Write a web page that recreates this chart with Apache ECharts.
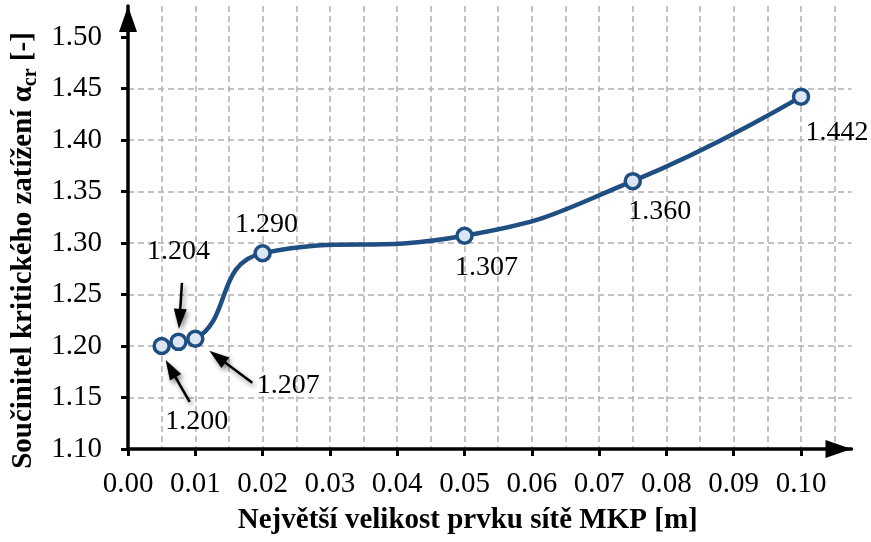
<!DOCTYPE html>
<html>
<head>
<meta charset="utf-8">
<script src="https://cdn.jsdelivr.net/npm/echarts@6/dist/echarts.min.js"></script>
<style>
html,body{margin:0;padding:0;background:#fff;}
#chart{width:871px;height:542px;}
</style>
</head>
<body>
<div id="chart"></div>
<script>
// ---- data ----
const meshSize = [0.005, 0.0075, 0.01, 0.02, 0.05, 0.075, 0.10];
const alphaCr = [1.200, 1.204, 1.207, 1.290, 1.307, 1.360, 1.442];
const pointLabels = ['1.200', '1.204', '1.207', '1.290', '1.307', '1.360', '1.442'];
const xTickValues = [0.00, 0.01, 0.02, 0.03, 0.04, 0.05, 0.06, 0.07, 0.08, 0.09, 0.10];
const yTickValues = [1.10, 1.15, 1.20, 1.25, 1.30, 1.35, 1.40, 1.45, 1.50];
const xTitle = 'Největší velikost prvku sítě MKP [m]';
const yTitleMain = 'Součinitel kritického zatížení α';
const yTitleSub = 'cr';
const yTitleEnd = ' [-]';

// ---- styles (pixel offsets of labels / arrows relative to points) ----
const labelOffsets = [[35, 76], [0, -90], [93, 47], [4, -29], [22, 32], [27, 31], [36, 36]];
const arrowSpecs = [
  { idx: 0, from: [28, 56], to: [4, 14] },
  { idx: 1, from: [3.5, -59], to: [0.5, -13] },
  { idx: 2, from: [57, 44], to: [14, 12] }
];
const FONT = "'Liberation Serif', 'Times New Roman', serif";
const LINE_COLOR = '#1f4e82';
const GRID_COLOR = '#b0b0b0';

const chart = echarts.init(document.getElementById('chart'), null, { renderer: 'canvas' });

const seriesData = meshSize.map((x, i) => ({
  value: [x, alphaCr[i]],
  label: {
    show: true,
    formatter: pointLabels[i],
    position: 'inside',
    offset: labelOffsets[i],
    align: 'center',
    verticalAlign: 'middle'
  }
}));

const axisArrow = { symbol: ['none', 'triangle'], symbolSize: [18, 26], symbolOffset: [0, -13] };

const option = {
  animation: false,
  backgroundColor: '#fff',
  grid: { left: 128, right: 19.5, top: 6, bottom: 93, containLabel: false },
  xAxis: [
    {
      type: 'value',
      min: 0, max: 0.1075, interval: 0.01,
      axisLine: Object.assign({ show: true, onZero: false, lineStyle: { color: '#000', width: 3.5 } }, axisArrow),
      axisTick: { show: true, inside: false, length: 7, lineStyle: { color: '#000', width: 3 },
        customValues: xTickValues },
      axisLabel: { show: true, margin: 21, fontFamily: FONT, fontSize: 29, color: '#000',
        customValues: xTickValues, formatter: v => v.toFixed(2) },
      splitLine: { show: false },
      name: xTitle, nameLocation: 'middle', nameGap: 57,
      nameTextStyle: { fontFamily: FONT, fontSize: 29, fontWeight: 'bold', color: '#000', padding: [0, 44, 0, 0] }
    },
    {
      type: 'value',
      min: 0, max: 0.1075, interval: 0.005,
      position: 'bottom',
      axisLine: { show: false }, axisTick: { show: false }, axisLabel: { show: false },
      splitLine: { show: true, showMinLine: false, showMaxLine: false,
        lineStyle: { color: GRID_COLOR, width: 1.5, type: [6, 4] } }
    }
  ],
  yAxis: {
    type: 'value',
    min: 1.10, max: 1.53, interval: 0.05,
    axisLine: Object.assign({ show: true, onZero: false, lineStyle: { color: '#000', width: 3.5 } }, axisArrow),
    axisTick: { show: true, inside: false, length: 7, lineStyle: { color: '#000', width: 3 },
      customValues: yTickValues },
    axisLabel: { show: true, margin: 26, fontFamily: FONT, fontSize: 29, color: '#000',
      customValues: yTickValues, formatter: v => v.toFixed(2) },
    splitLine: { show: true, showMinLine: false, showMaxLine: false,
      lineStyle: { color: GRID_COLOR, width: 1.5, type: [6, 4] } },
    name: '{b|' + yTitleMain + '}{s|' + yTitleSub + '}{b|' + yTitleEnd + '}',
    nameLocation: 'middle', nameGap: 85, nameRotate: 90,
    nameTextStyle: {
      padding: [0, 46, 0, 0],
      rich: {
        b: { fontFamily: FONT, fontSize: 29, fontWeight: 'bold', color: '#000', lineHeight: 34 },
        s: { fontFamily: FONT, fontSize: 20, fontWeight: 'bold', color: '#000', lineHeight: 30, verticalAlign: 'bottom' }
      }
    }
  },
  series: [{
    type: 'line',
    xAxisIndex: 0,
    yAxisIndex: 0,
    data: seriesData,
    smooth: 0.5,
    symbol: 'circle',
    symbolSize: 15,
    showAllSymbol: true,
    lineStyle: { color: LINE_COLOR, width: 4.5 },
    itemStyle: { color: '#dce6f2', borderColor: LINE_COLOR, borderWidth: 3.5 },
    label: { fontFamily: FONT, fontSize: 28, color: '#000' },
    z: 3
  }]
};

chart.setOption(option);

// arrows anchored to data points through the axis scales
const graphics = [];
arrowSpecs.forEach(a => {
  const p = chart.convertToPixel({ xAxisIndex: 0, yAxisIndex: 0 }, [meshSize[a.idx], alphaCr[a.idx]]);
  const x1 = p[0] + a.from[0], y1 = p[1] + a.from[1];
  const x2 = p[0] + a.to[0], y2 = p[1] + a.to[1];
  const dx = x2 - x1, dy = y2 - y1;
  const len = Math.sqrt(dx * dx + dy * dy);
  const ux = dx / len, uy = dy / len;
  const px = -uy, py = ux;
  const headLen = 20, headW = 6.5;
  const bx = x2 - ux * headLen, by = y2 - uy * headLen;
  const shadow = { shadowColor: 'rgba(0,0,0,0.45)', shadowBlur: 5, shadowOffsetX: 2, shadowOffsetY: 3 };
  graphics.push({
    type: 'line', z: 100,
    shape: { x1: x1, y1: y1, x2: bx + ux * 2, y2: by + uy * 2 },
    style: Object.assign({ stroke: '#000', lineWidth: 2.5 }, shadow)
  });
  graphics.push({
    type: 'polygon', z: 100,
    shape: { points: [[x2, y2], [bx + px * headW, by + py * headW], [bx - px * headW, by - py * headW]] },
    style: Object.assign({ fill: '#000' }, shadow)
  });
});
chart.setOption({ graphic: graphics });
</script>
</body>
</html>
